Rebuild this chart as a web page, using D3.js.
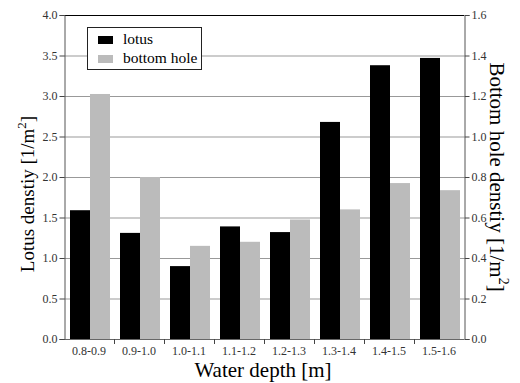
<!DOCTYPE html>
<html><head><meta charset="utf-8">
<script src="https://cdn.jsdelivr.net/npm/d3@7"></script>
<style>body{margin:0;background:#fff}svg{display:block}</style>
</head><body>
<svg id="c" width="520" height="383"></svg>
<script>
const categories = ["0.8-0.9","0.9-1.0","1.0-1.1","1.1-1.2","1.2-1.3","1.3-1.4","1.4-1.5","1.5-1.6"];
const lotus = [1.59,1.31,0.90,1.39,1.32,2.68,3.38,3.47];
const bottomHole = [1.21,0.80,0.46,0.48,0.59,0.64,0.77,0.735];
const leftTicks = [0,0.5,1,1.5,2,2.5,3,3.5,4];
const rightTicks = [0,0.2,0.4,0.6,0.8,1.0,1.2,1.4,1.6];

const FONT = "'Liberation Serif', serif";
const svg = d3.select("#c");
const L=64, R=464, T=15, B=339;
const x = d3.scaleBand().domain(categories).range([L,R]).paddingInner(0).paddingOuter(0);
const yL = d3.scaleLinear().domain([0,4]).range([B,T]);
const yR = d3.scaleLinear().domain([0,1.6]).range([B,T]);

svg.append("g").selectAll("line").data(leftTicks.filter(d=>d>0&&d<4)).join("line")
  .attr("x1",L).attr("x2",R).attr("y1",d=>yL(d)+0.5).attr("y2",d=>yL(d)+0.5)
  .attr("stroke","#999").attr("stroke-width",1);

const bw = 20, pad = 5;
svg.append("g").selectAll("rect").data(lotus).join("rect")
  .attr("x",(d,i)=>x(categories[i])+pad+1).attr("width",bw)
  .attr("y",d=>yL(d)).attr("height",d=>B-yL(d)).attr("fill","#000");
svg.append("g").selectAll("rect").data(bottomHole).join("rect")
  .attr("x",(d,i)=>x(categories[i])+pad+1+bw).attr("width",bw)
  .attr("y",d=>yR(d)).attr("height",d=>B-yR(d)).attr("fill","#bbbbbb");

svg.append("line").attr("x1",L).attr("x2",R).attr("y1",T+0.5).attr("y2",T+0.5).attr("stroke","#000");
svg.append("line").attr("x1",L).attr("x2",R).attr("y1",B+0.5).attr("y2",B+0.5).attr("stroke","#666");

const gl = svg.append("g").attr("transform",`translate(${L+0.5},0)`)
  .call(d3.axisLeft(yL).tickValues(leftTicks).tickFormat(d3.format(".1f")).tickSize(5).tickPadding(2));
const gr = svg.append("g").attr("transform",`translate(${R+0.5},0)`)
  .call(d3.axisRight(yR).tickValues(rightTicks).tickFormat(d3.format(".1f")).tickSize(5).tickPadding(2));
const gb = svg.append("g").attr("transform",`translate(0,${B+0.5})`)
  .call(d3.axisBottom(x).tickSize(0).tickPadding(7));
svg.append("g").selectAll("line").data(categories.slice(1)).join("line")
  .attr("x1",d=>x(d)+0.5).attr("x2",d=>x(d)+0.5).attr("y1",B).attr("y2",B+5).attr("stroke","#444");

[gl,gr,gb].forEach(g=>{
  g.attr("font-family",null);
  g.selectAll(".domain").attr("stroke","#555");
  g.selectAll(".tick line").attr("stroke","#444");
  g.selectAll("text").style("font-family",FONT).attr("font-size",12).attr("fill","#333");
});
gb.select(".domain").remove();

const lt = svg.append("text").attr("transform","translate(34,194) rotate(-90)").attr("text-anchor","middle")
  .style("font-family",FONT).attr("font-size",19).attr("fill","#000");
lt.append("tspan").text("Lotus denstiy [1/m");
lt.append("tspan").attr("dy",-8).attr("font-size",13).text("2");
lt.append("tspan").attr("dy",8).text("]");

const rt = svg.append("text").attr("transform","translate(490,177) rotate(90)").attr("text-anchor","middle")
  .style("font-family",FONT).attr("font-size",21).attr("fill","#000");
rt.append("tspan").text("Bottom hole denstiy  [1/m");
rt.append("tspan").attr("dy",-9).attr("font-size",14).text("2");
rt.append("tspan").attr("dy",9).text("]");

svg.append("text").attr("x",263).attr("y",377).attr("text-anchor","middle")
  .style("font-family",FONT).attr("font-size",21).text("Water depth [m]");

const lg = svg.append("g");
lg.append("rect").attr("x",87.5).attr("y",27.5).attr("width",114).attr("height",42).attr("fill","#fff").attr("stroke","#222");
const keys = [["lotus","#000"],["bottom hole","#bbbbbb"]];
keys.forEach((k,i)=>{
  lg.append("rect").attr("x",98).attr("y",36+i*19).attr("width",15).attr("height",8).attr("fill",k[1]);
  lg.append("text").attr("x",123).attr("y",44+i*19).style("font-family",FONT).attr("font-size",15.5).text(k[0]);
});
</script>
</body></html>
